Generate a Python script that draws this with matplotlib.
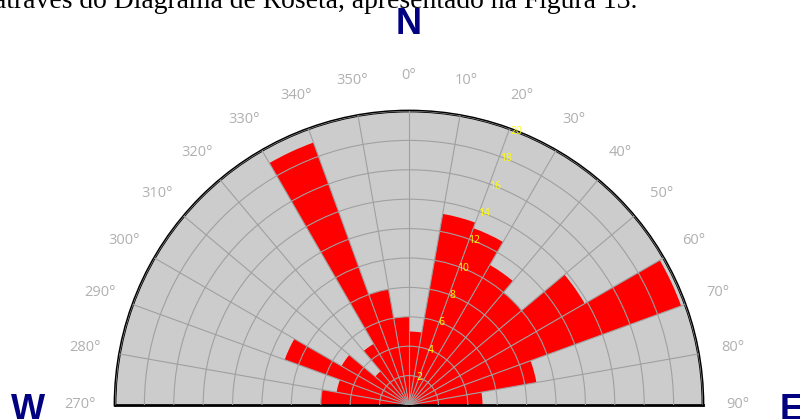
import numpy as np
import matplotlib
matplotlib.use("Agg")
import matplotlib.pyplot as plt

# sector start (compass degrees) and frequency of each 10 degree class
sector_start = [270, 280, 290, 300, 310, 320, 330, 340, 350,
                0, 10, 20, 30, 40, 50, 60, 70, 80]
frequency = [6.0, 5.0, 9.0, 5.3, 3.0, 4.8, 19.0, 8.0, 6.0,
             5.0, 13.2, 12.8, 11.0, 10.0, 13.8, 19.7, 8.8, 5.0]

angle_ticks = list(range(-90, 91, 10))
angle_labels = [f"{a % 360}\u00b0" for a in angle_ticks]
radius_ticks = list(range(2, 21, 2))

caption = "através do Diagrama de Roseta, apresentado na Figura 13."

W, H = 800, 419
cx, cy, R = 409, 405, 294  # centre and radius of the half circle, in pixels

fig = plt.figure(figsize=(W / 100, H / 100), dpi=100)
# polar wedge is fitted into a square box, so give it one centred on the half disc
mid = cy - R / 2
ax = fig.add_axes([(cx - R) / W, (H - (mid + R)) / H, 2 * R / W, 2 * R / H],
                  projection="polar")
ax.set_theta_zero_location("N")
ax.set_theta_direction(-1)
ax.set_thetamin(-90)
ax.set_thetamax(90)
ax.set_rlim(0, 20)
ax.set_facecolor("#cccccc")
ax.set_axisbelow(False)

# wrap 270..350 to negative angles so they fall inside the half circle
starts = np.array([(s + 180) % 360 - 180 for s in sector_start])
ax.bar(np.deg2rad(starts), frequency, width=np.deg2rad(10), align="edge",
       color="#ff0000", edgecolor="none", linewidth=0, zorder=1)

ax.set_thetagrids(angle_ticks, [""] * len(angle_ticks))
ax.set_rgrids(radius_ticks, [""] * len(radius_ticks))
ax.grid(True, color="#a0a0a0", linewidth=0.8)

for a, lab in zip(angle_ticks, angle_labels):
    ax.text(np.deg2rad(a), 22.4, lab, ha="center", va="center",
            color="#b0b0b0", fontsize=10.5, family="Open Sans", clip_on=False)

for r in radius_ticks:
    ax.text(np.deg2rad(21.5), r, str(r), ha="center", va="center",
            color="#ffff00", fontsize=7.5, family="Open Sans", zorder=5)

for name, sp in ax.spines.items():
    sp.set_color("black")
    sp.set_linewidth(2)

navy = "#000080"
fig.text(409 / W, 1 - 24 / H, "N", ha="center", va="center",
         color=navy, fontsize=26, fontweight="bold", family="Liberation Sans")
fig.text(28 / W, 1 - 410 / H, "W", ha="center", va="center",
         color=navy, fontsize=26, fontweight="bold", family="Liberation Sans")
fig.text(792 / W, 1 - 410 / H, "E", ha="center", va="center",
         color=navy, fontsize=26, fontweight="bold", family="Liberation Sans")

fig.text(638 / W, 1 - 8 / H, caption, ha="right", va="baseline",
         color="black", fontsize=19.9, family="Liberation Serif")

fig.savefig("out.png", dpi=100)
